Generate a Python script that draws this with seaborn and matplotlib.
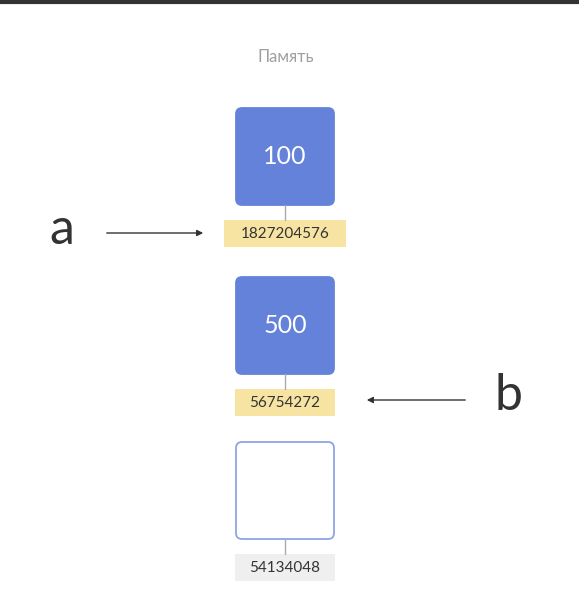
import matplotlib
matplotlib.use("Agg")
import matplotlib.pyplot as plt
from matplotlib.patches import FancyBboxPatch, Rectangle
import seaborn as sns

sns.set_style("white")
plt.rcParams['font.family'] = ['Lato', 'DejaVu Sans']

title = "Память"
values = ["100", "500", ""]
addresses = ["1827204576", "56754272", "54134048"]
filled = [True, True, False]
addr_highlight = [True, True, False]
pointers = ["a", "b"]

box_top = [108, 277, 442]
blue = "#6482d9"
yellow = "#f7e4a2"
grey_label = "#efefef"

fig = plt.figure(figsize=(5.79, 6.05), dpi=100)
ax = fig.add_axes([0, 0, 1, 1])
ax.set_xlim(0, 579)
ax.set_ylim(605, 0)
ax.axis("off")

ax.plot([0, 579], [1.5, 1.5], color="#333333", lw=3)
ax.text(286, 57, title, ha="center", va="center", fontsize=12, color="#a0a0a0")

for i, (val, addr) in enumerate(zip(values, addresses)):
    top = box_top[i]
    cx = 285
    w, h = 98, 97
    face = blue if filled[i] else "white"
    edge = blue if filled[i] else "#8da4e6"
    ax.add_patch(FancyBboxPatch((cx - w / 2, top), w, h,
                                boxstyle="round,pad=0,rounding_size=6",
                                fc=face, ec=edge, lw=1.3))
    if val:
        ax.text(cx, top + h / 2, val, ha="center", va="center",
                fontsize=18, color="white")
    ly = top + h + 15
    ax.plot([cx, cx], [top + h, ly], color="#aaaaaa", lw=1)
    lw_ = 11 * len(addr) + 12
    ax.add_patch(Rectangle((cx - lw_ / 2, ly), lw_, 27,
                           fc=yellow if addr_highlight[i] else grey_label, ec="none"))
    ax.text(cx, ly + 14, addr, ha="center", va="center", fontsize=11, color="#333333")

ax.text(62, 230, pointers[0], ha="center", va="center", fontsize=36, color="#333333")
ax.annotate("", xy=(206, 233), xytext=(104, 233),
            arrowprops=dict(arrowstyle="-|>", color="#333333", lw=1, mutation_scale=9))
ax.text(508, 396, pointers[1], ha="center", va="center", fontsize=36, color="#333333")
ax.annotate("", xy=(364, 400), xytext=(468, 400),
            arrowprops=dict(arrowstyle="-|>", color="#333333", lw=1, mutation_scale=9))

fig.savefig("out.png", dpi=100)
